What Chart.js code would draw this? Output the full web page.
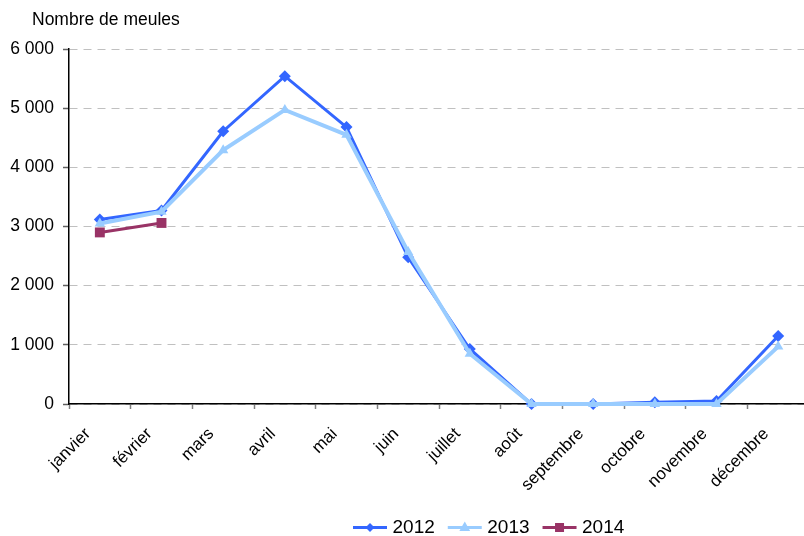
<!DOCTYPE html>
<html><head><meta charset="utf-8">
<script src="https://cdn.jsdelivr.net/npm/chart.js@4/dist/chart.umd.min.js"></script>
<style>
html,body{margin:0;padding:0;overflow:hidden;background:#fff}
#wrap{position:relative;width:816px;height:547px}
</style></head>
<body><div id="wrap"><canvas id="c"></canvas></div>
<script>
const months = ['janvier','février','mars','avril','mai','juin','juillet','août','septembre','octobre','novembre','décembre'];
const values2012 = [3120, 3270, 4610, 5540, 4680, 2480, 930, 0, 0, 30, 50, 1150];
const values2013 = [3050, 3250, 4290, 4970, 4550, 2570, 850, 0, 0, 0, 0, 970];
const values2014 = [2900, 3060];
const yTicks = [0, 1000, 2000, 3000, 4000, 5000, 6000];
const yTitle = 'Nombre de meules';

const FONT = '"Liberation Sans", Arial, sans-serif';
const fmt = v => String(v).replace(/\B(?=(\d{3})+(?!\d))/g, ' ');

function drawMarker(ctx, style, x, y, r, color) {
  ctx.save();
  ctx.fillStyle = color;
  ctx.beginPath();
  if (style === 'rectRot') {
    ctx.moveTo(x, y - r); ctx.lineTo(x + r, y); ctx.lineTo(x, y + r); ctx.lineTo(x - r, y);
  } else if (style === 'triangle') {
    ctx.moveTo(x, y - r); ctx.lineTo(x + r * 0.9, y + r * 0.6); ctx.lineTo(x - r * 0.9, y + r * 0.6);
  } else {
    ctx.rect(x - r, y - r, 2 * r, 2 * r);
  }
  ctx.closePath(); ctx.fill();
  ctx.restore();
}

const legendMarks = [
  {style: 'rectRot', r: 4.5},
  {style: 'triangle', r: 6},
  {style: 'rect', r: 4.5}
];

const extras = {
  id: 'extras',
  afterLayout(chart) {
    const l = chart.legend;
    if (!l || !l.lineWidths) return;
    const p = l.options.labels.padding;
    const start = (l.left + p + l.right - l.lineWidths[0]) / 2;
    const delta = 353 - start;
    l.left += delta; l.right += delta;
  },
  afterDraw(chart) {
    const ctx = chart.ctx;
    ctx.save();
    ctx.font = '17.5px ' + FONT;
    ctx.fillStyle = '#000';
    ctx.textBaseline = 'middle';
    ctx.textAlign = 'left';
    ctx.fillText(yTitle, 32, 20);
    ctx.restore();
    const l = chart.legend;
    if (!l || !l.legendHitBoxes) return;
    l.legendHitBoxes.forEach((hb, i) => {
      const item = l.legendItems[i];
      const ds = chart.data.datasets[item.datasetIndex];
      const mk = legendMarks[item.datasetIndex];
      const cy = hb.top + hb.height / 2;
      ctx.save();
      ctx.strokeStyle = ds.borderColor;
      ctx.lineWidth = 3;
      ctx.beginPath(); ctx.moveTo(hb.left, cy); ctx.lineTo(hb.left + 34, cy); ctx.stroke();
      ctx.restore();
      drawMarker(ctx, mk.style, hb.left + 17, cy, mk.r, ds.borderColor);
    });
  }
};

new Chart(document.getElementById('c'), {
  type: 'line',
  data: {
    labels: months,
    datasets: [
      {label: '2012', data: values2012, borderColor: '#3366FF', backgroundColor: '#3366FF',
       borderWidth: 3, pointStyle: 'rectRot', pointRadius: 6, pointBorderWidth: 0, order: 3, clip: false},
      {label: '2013', data: values2013, borderColor: '#99CCFF', backgroundColor: '#99CCFF',
       borderWidth: 4, pointStyle: 'triangle', pointRadius: 6, pointBorderWidth: 0, order: 2, clip: false},
      {label: '2014', data: values2014, borderColor: '#993366', backgroundColor: '#993366',
       borderWidth: 3, pointStyle: 'rect', pointRadius: 7, pointBorderWidth: 0, order: 1, clip: false}
    ]
  },
  options: {
    responsive: true,
    maintainAspectRatio: false,
    animation: false,
    events: [],
    layout: {padding: {top: 49, left: 0, right: 0, bottom: 0}},
    elements: {line: {tension: 0}},
    plugins: {
      tooltip: {enabled: false},
      title: {display: false},
      legend: {
        position: 'bottom',
        align: 'center',
        labels: {
          font: {size: 19, family: FONT},
          color: '#000',
          boxWidth: 30,
          boxHeight: 3,
          padding: 13,
          sort: (a, b) => a.datasetIndex - b.datasetIndex,
          generateLabels(chart) {
            return Chart.defaults.plugins.legend.labels.generateLabels(chart).map(it => {
              it.fillStyle = 'rgba(0,0,0,0)';
              it.strokeStyle = 'rgba(0,0,0,0)';
              it.lineWidth = 0;
              return it;
            });
          }
        }
      }
    },
    scales: {
      x: {
        type: 'category',
        offset: true,
        grid: {display: true, offset: true, drawOnChartArea: false, drawTicks: true, tickLength: 5, tickColor: '#808080', tickWidth: 1.5},
        border: {display: true, color: '#000', width: 1.5},
        ticks: {minRotation: 45, maxRotation: 45, autoSkip: false, padding: 15, labelOffset: -12, color: '#000', font: {size: 17, family: FONT}},
        afterFit(s) { s.height = 101; }
      },
      y: {
        min: 0, max: 6000,
        afterBuildTicks(s) { s.ticks = yTicks.map(v => ({value: v})); },
        grid: {color: '#c0c0c0', lineWidth: 1, drawTicks: true, tickLength: 6, tickColor: '#606060', tickWidth: 1.5, tickBorderDash: []},
        border: {display: true, color: '#000', width: 1.5, dash: [8, 6]},
        ticks: {padding: 9, color: '#000', font: {size: 17.5, family: FONT}, callback: v => fmt(v)},
        afterFit(s) { s.width = 69; }
      }
    }
  },
  plugins: [extras]
});
</script>
</body></html>
